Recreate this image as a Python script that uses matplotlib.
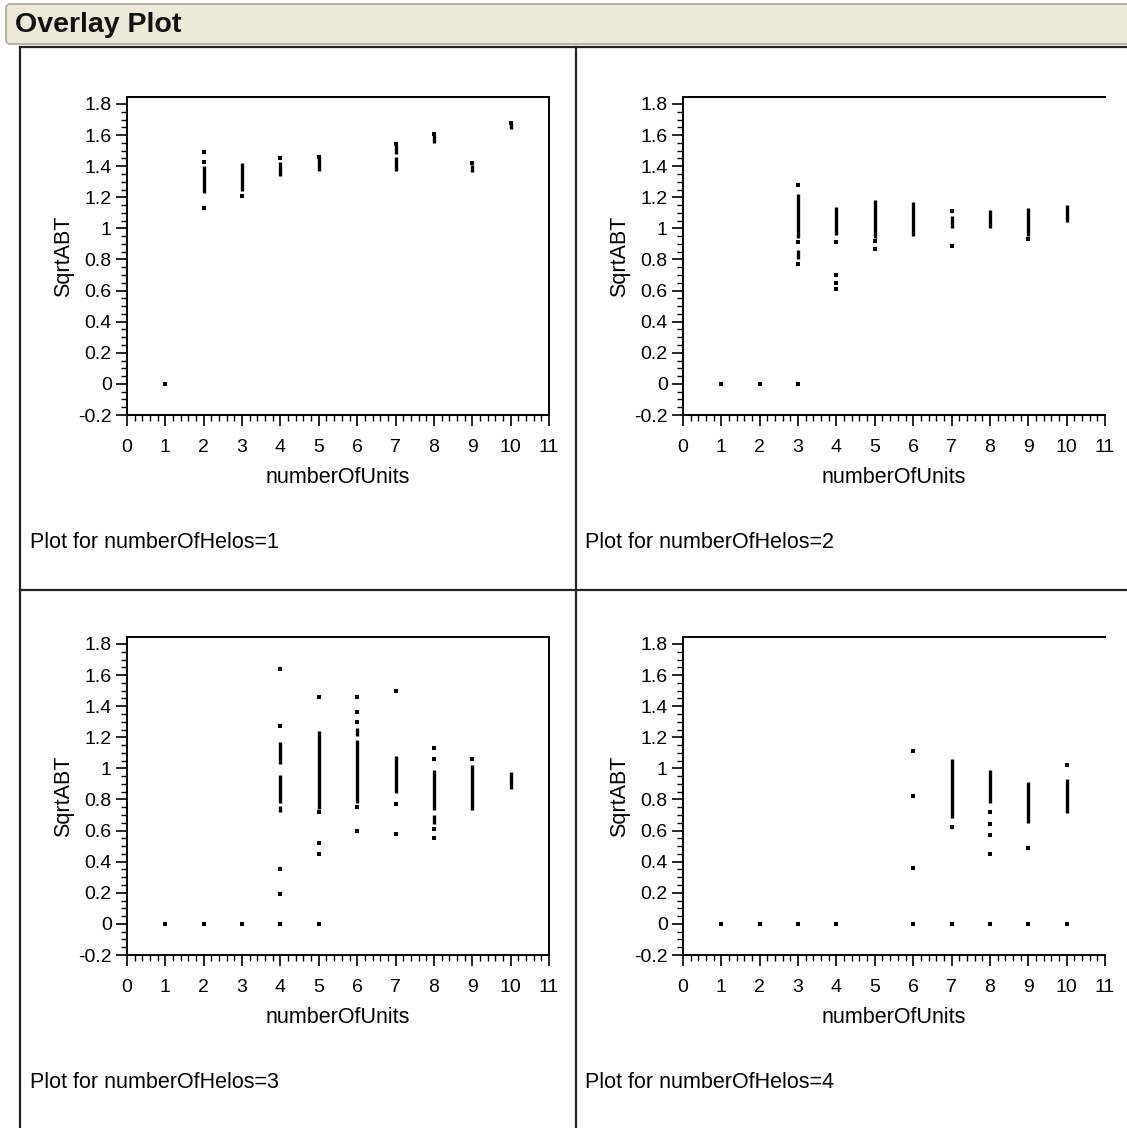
import numpy as np
import matplotlib.pyplot as plt
from matplotlib.patches import FancyBboxPatch
from matplotlib.lines import Line2D
from matplotlib.ticker import MultipleLocator

plt.rcParams['font.family'] = ['Liberation Sans', 'DejaVu Sans']

# ---------------------- data: SqrtABT vs numberOfUnits, one panel per numberOfHelos
# isolated points
h1_x = [1, 2, 2, 2, 3, 4, 5, 7, 8, 9, 10]
h1_y = [0.0, 1.49, 1.43, 1.13, 1.21, 1.45, 1.46, 1.54, 1.61, 1.42, 1.68]
# dense stacks of points (from lo to hi)
h1_run_x = [2, 3, 4, 5, 7, 7, 8, 9, 10]
h1_run_lo = [1.23, 1.24, 1.34, 1.37, 1.37, 1.48, 1.55, 1.36, 1.64]
h1_run_hi = [1.40, 1.42, 1.43, 1.45, 1.46, 1.54, 1.60, 1.41, 1.68]

h2_x = [1, 2, 3, 3, 3, 3, 4, 4, 4, 4, 5, 5, 7, 7, 9]
h2_y = [0.0, 0.0, 0.0, 1.28, 0.91, 0.77, 0.91, 0.70, 0.65, 0.61, 0.92, 0.87, 1.11, 0.89, 0.93]
h2_run_x = [3, 3, 4, 5, 6, 7, 8, 9, 10]
h2_run_lo = [0.94, 0.80, 0.96, 0.94, 0.95, 1.00, 1.00, 0.95, 1.04]
h2_run_hi = [1.22, 0.86, 1.14, 1.18, 1.17, 1.08, 1.12, 1.13, 1.15]

h3_x = [1, 2, 3, 4, 5, 4, 4, 4, 4, 5, 5, 5, 5, 6, 6, 6, 6, 6, 7, 7, 7, 8, 8, 8, 8, 9]
h3_y = [0.0, 0.0, 0.0, 0.0, 0.0, 1.64, 1.27, 0.35, 0.19, 1.46, 0.72, 0.52, 0.45,
        1.46, 1.36, 1.30, 0.75, 0.60, 1.50, 0.77, 0.58, 1.13, 1.06, 0.61, 0.55, 1.06]
h3_run_x = [4, 4, 4, 5, 6, 6, 7, 8, 8, 9, 10]
h3_run_lo = [1.03, 0.78, 0.72, 0.74, 0.78, 1.21, 0.84, 0.73, 0.64, 0.73, 0.87]
h3_run_hi = [1.17, 0.96, 0.76, 1.24, 1.18, 1.26, 1.08, 0.99, 0.70, 1.02, 0.98]

h4_x = [1, 2, 3, 4, 6, 7, 8, 9, 10, 6, 6, 6, 7, 8, 8, 8, 8, 9, 10]
h4_y = [0.0, 0.0, 0.0, 0.0, 0.0, 0.0, 0.0, 0.0, 0.0, 1.11, 0.82, 0.36, 0.62,
        0.72, 0.64, 0.57, 0.45, 0.49, 1.02]
h4_run_x = [7, 8, 9, 10]
h4_run_lo = [0.68, 0.78, 0.65, 0.71]
h4_run_hi = [1.06, 0.99, 0.91, 0.93]

y_tick_labels = ['-0.2', '0', '0.2', '0.4', '0.6', '0.8', '1',
                 '1.2', '1.4', '1.6', '1.8']

panels = [
    (h1_x, h1_y, h1_run_x, h1_run_lo, h1_run_hi, 1),
    (h2_x, h2_y, h2_run_x, h2_run_lo, h2_run_hi, 2),
    (h3_x, h3_y, h3_run_x, h3_run_lo, h3_run_hi, 3),
    (h4_x, h4_y, h4_run_x, h4_run_lo, h4_run_hi, 4),
]

# ---------------------- figure in pixel units
W, H = 1127, 1128
fig = plt.figure(figsize=(W / 100, H / 100), dpi=100)
fig.patch.set_facecolor('white')

def fx(px):
    return px / W

def fy(py):
    return 1 - py / H

# header bar
bar = FancyBboxPatch((fx(6), fy(44)), fx(1140), (44 - 4) / H,
                     boxstyle='round,pad=0,rounding_size=0.004',
                     transform=fig.transFigure, facecolor='#ECE9D8',
                     edgecolor='#A8A89A', linewidth=1.2, zorder=0)
fig.patches.append(bar)
fig.text(fx(15), fy(25), 'Overlay Plot', fontsize=20.5, fontweight='bold',
         va='center', ha='left', color='#111111')

# frame lines between panels
frame_col = '#222222'
for (x0, y0, x1, y1) in [(20, 47, 1127, 47), (20, 47, 20, 1128),
                         (576, 47, 576, 1128), (20, 590, 1127, 590)]:
    fig.add_artist(Line2D([fx(x0), fx(x1)], [fy(y0), fy(y1)],
                          transform=fig.transFigure, color=frame_col, lw=1.6))

# axes boxes: left px, top px
boxes = [(127, 97), (683, 97), (127, 637), (683, 637)]
ax_w, ax_h = 422, 318
caption_pos = [(30, 543), (585, 543), (30, 1083), (585, 1083)]

for (xs, ys, rx, rlo, rhi, helos), (left, top), (cx, cy) in zip(panels, boxes, caption_pos):
    ax = fig.add_axes([fx(left), fy(top + ax_h), ax_w / W, ax_h / H])
    ax.vlines(rx, rlo, rhi, colors='black', linewidth=2.4, capstyle='butt')
    ax.plot(xs, ys, linestyle='none', marker='s', markersize=2.4,
            markeredgewidth=0, color='black')
    ax.set_xlim(0, 11)
    ax.set_ylim(-0.2, 1.845)
    ax.xaxis.set_major_locator(MultipleLocator(1))
    ax.xaxis.set_minor_locator(MultipleLocator(0.2))
    ax.yaxis.set_minor_locator(MultipleLocator(0.05))
    ax.set_yticks(np.arange(-0.2, 1.81, 0.2))
    ax.set_yticklabels(y_tick_labels)
    ax.tick_params(which='major', direction='out', length=8, width=1.2,
                   labelsize=14)
    ax.tick_params(axis='x', which='major', pad=9)
    ax.tick_params(axis='y', which='major', pad=3)
    ax.tick_params(which='minor', direction='out', length=4.5, width=1.0)
    for s in ax.spines.values():
        s.set_linewidth(1.4)
    if left > 600:
        ax.spines['right'].set_visible(False)
    ax.set_xlabel('numberOfUnits', fontsize=15.5, labelpad=8)
    ax.set_ylabel('SqrtABT', fontsize=15.5, labelpad=3)
    fig.text(fx(cx), fy(cy), 'Plot for numberOfHelos=%d' % helos,
             fontsize=15.5, va='center', ha='left')

plt.savefig('out.png', dpi=100)
